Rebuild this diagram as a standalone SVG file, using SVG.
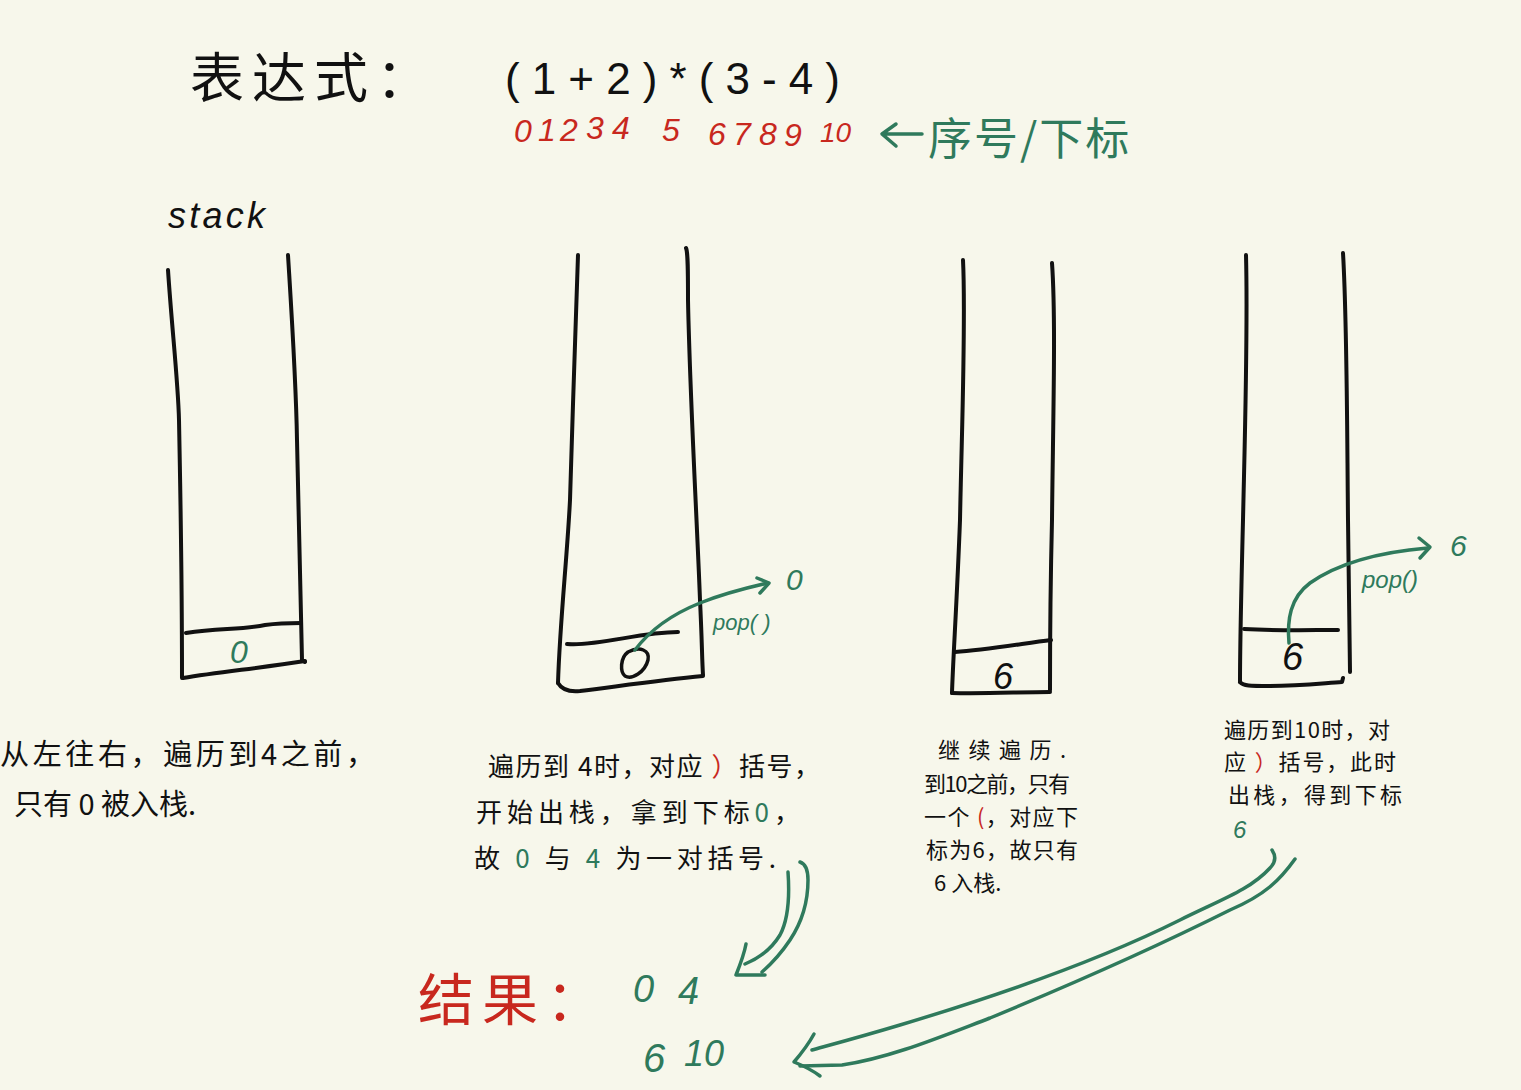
<svg xmlns="http://www.w3.org/2000/svg" width="1521" height="1090" viewBox="0 0 1521 1090">
<style>
.ink{fill:none;stroke:#111;stroke-width:4;stroke-linecap:round;stroke-linejoin:round}
.gink{fill:none;stroke:#2f7a5c;stroke-width:3.5;stroke-linecap:round;stroke-linejoin:round}
.t{font-family:"Noto Sans CJK SC","Liberation Sans",sans-serif;fill:#111}
.g{fill:#2f7a5c}
.r{fill:#c8281e}
.hand{font-family:"Liberation Sans","Noto Sans CJK SC",sans-serif;font-style:italic}
.up{font-family:"Liberation Sans","Noto Sans CJK SC",sans-serif}
</style>
<rect width="1521" height="1090" fill="#f7f7eb"/>

<g id="title">
<text class="t" x="190" y="98" font-size="54" letter-spacing="8">表达式：</text>
<text class="up" x="505" y="94" font-size="44" fill="#111" textLength="335" lengthAdjust="spacing">(1+2)*(3-4)</text>
</g>

<g id="indices" class="hand r" font-size="32">
<text x="514" y="142">0</text>
<text x="538" y="141">1</text>
<text x="560" y="141">2</text>
<text x="586" y="139">3</text>
<text x="612" y="139">4</text>
<text x="662" y="141">5</text>
<text x="708" y="145">6</text>
<text x="733" y="145">7</text>
<text x="759" y="145">8</text>
<text x="784" y="146">9</text>
<text x="820" y="142" font-size="28">10</text>
</g>

<g id="index-label">
<path class="gink" d="M922,134 L884,134 M896,124 L882,134 L896,146"/>
<text class="t g" x="928" y="155" font-size="44" letter-spacing="2">序号/下标</text>
</g>

<text id="stack-label" class="hand" x="168" y="228" font-size="36" fill="#111" textLength="97" lengthAdjust="spacing">stack</text>

<g id="stack1">
<path class="ink" d="M168,270 C172,330 178,380 179,420 C181,520 182,600 182,678"/>
<path class="ink" d="M288,255 C292,320 296,380 297,440 C299,530 300,600 302,660 L305,662"/>
<path class="ink" d="M183,678 C220,672 260,668 305,661"/>
<path class="ink" d="M186,633 C220,628 240,630 265,625 C280,623 292,623 301,623"/>
<text class="hand g" x="230" y="663" font-size="32">0</text>
</g>

<g id="stack2">
<path class="ink" d="M578,255 C576,330 572,420 570,500 C567,560 560,620 558,683"/>
<path class="ink" d="M686,248 C688,252 688,270 688,300 C690,400 697,520 700,600 C702,640 702,660 703,675"/>
<path class="ink" d="M558,683 C562,690 570,692 580,691 C620,686 660,680 703,676"/>
<path class="ink" d="M567,644 C600,646 640,632 678,632"/>
<path d="M628,652 C640,646 650,650 648,660 C645,672 632,680 625,676 C620,672 620,658 628,652 Z" fill="none" stroke="#111" stroke-width="3.5"/>
</g>

<g id="stack3">
<path class="ink" d="M963,260 C966,320 962,420 960,520 C957,600 953,660 952,693"/>
<path class="ink" d="M1052,263 C1056,320 1053,420 1052,520 C1050,600 1050,660 1050,690"/>
<path class="ink" d="M952,693 C985,694 1020,692 1050,692"/>
<path class="ink" d="M955,652 C985,650 1020,644 1051,640"/>
<text class="hand" x="993" y="689" font-size="36" fill="#111">6</text>
</g>

<g id="stack4">
<path class="ink" d="M1246,255 C1248,330 1245,430 1243,520 C1241,600 1240,650 1240,682"/>
<path class="ink" d="M1343,253 C1347,320 1347,420 1348,520 C1349,600 1350,650 1350,672"/>
<path class="ink" d="M1240,682 C1243,686 1250,686 1270,686 C1300,686 1325,683 1342,682 L1343,678"/>
<path class="ink" d="M1244,629 C1280,631 1310,630 1338,630"/>
<text class="hand" x="1282" y="670" font-size="38" fill="#111">6</text>
</g>

<g id="connectors">
<path class="gink" d="M635,650 C650,630 670,615 700,603 C725,593 750,587 768,583"/>
<path class="gink" d="M757,578 L769,583 L760,593"/>
<path class="gink" d="M1289,643 C1287,620 1290,598 1310,583 C1340,562 1380,552 1428,548"/>
<path class="gink" d="M1419,538 L1430,547 L1420,558"/>
<path class="gink" d="M788,872 C790,900 788,920 780,935 C772,948 760,958 745,964"/>
<path class="gink" d="M800,862 C806,864 808,870 808,880 C808,905 800,925 790,940 C780,955 770,965 762,972"/>
<path class="gink" d="M746,944 C744,955 740,965 736,975 C745,975 755,975 765,975"/>
<path class="gink" d="M1272,850 C1276,856 1276,862 1270,868 C1250,890 1220,900 1180,920 C1100,960 1000,995 900,1025 C860,1037 830,1045 812,1050"/>
<path class="gink" d="M1295,859 C1280,880 1265,895 1230,910 C1150,950 1070,985 990,1018 C940,1037 890,1058 842,1065 L800,1066"/>
<path class="gink" d="M814,1034 C808,1045 800,1055 794,1062 C804,1066 812,1070 820,1076"/>
</g>

<g id="pop-labels" class="hand g">
<text x="713" y="630" font-size="22">pop( )</text>
<text x="786" y="590" font-size="30">0</text>
<text x="1362" y="588" font-size="24">pop()</text>
<text x="1450" y="556" font-size="30">6</text>
</g>

<g id="note1" class="t" font-size="29">
<text x="0" y="765" textLength="375" lengthAdjust="spacing">从左往右，遍历到4之前，</text>
<text x="14" y="815">只有 <tspan>0</tspan> 被入栈.</text>
</g>

<g id="note2" class="t" font-size="26">
<text x="488" y="776" textLength="332" lengthAdjust="spacing">遍历到 4时，对应 <tspan class="r">）</tspan>括号，</text>
<text x="476" y="822" textLength="324" lengthAdjust="spacing">开始出栈，拿到下标<tspan class="g">0</tspan>，</text>
<text x="474" y="868" textLength="302" lengthAdjust="spacing">故 <tspan class="g">0</tspan> 与 <tspan class="g">4</tspan> 为一对括号.</text>
</g>

<g id="note3" class="t" font-size="22">
<text x="938" y="758" textLength="128" lengthAdjust="spacing">继续遍历.</text>
<text x="924" y="792" textLength="146" lengthAdjust="spacing">到10之前，只有</text>
<text x="924" y="825" textLength="154" lengthAdjust="spacing">一个 <tspan class="r">(</tspan>，对应下</text>
<text x="926" y="858" textLength="152" lengthAdjust="spacing">标为6，故只有</text>
<text x="934" y="891">6 入栈.</text>
</g>

<g id="note4" class="t" font-size="22">
<text x="1224" y="738" textLength="166" lengthAdjust="spacing">遍历到10时，对</text>
<text x="1224" y="770" textLength="172" lengthAdjust="spacing">应 <tspan class="r">）</tspan>括号，此时</text>
<text x="1228" y="803" textLength="174" lengthAdjust="spacing">出栈，得到下标</text>
<text class="hand g" x="1233" y="838" font-size="24">6</text>
</g>

<g id="result">
<text class="t r" x="418" y="1020" font-size="56" letter-spacing="8">结果：</text>
<text class="hand g" x="633" y="1002" font-size="38">0</text>
<text class="hand g" x="678" y="1004" font-size="38">4</text>
<text class="hand g" x="643" y="1072" font-size="40">6</text>
<text class="hand g" x="684" y="1066" font-size="36">10</text>
</g>
</svg>
